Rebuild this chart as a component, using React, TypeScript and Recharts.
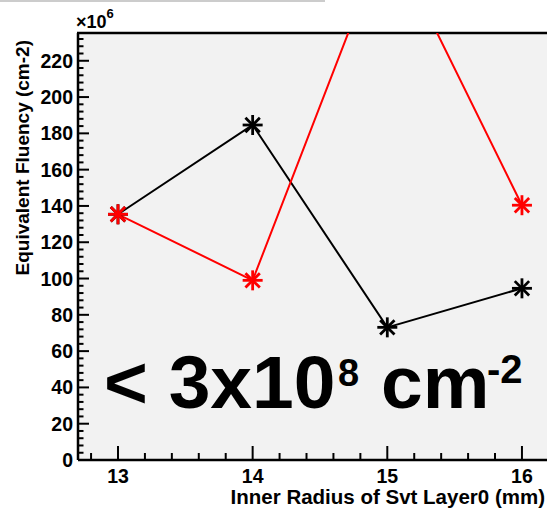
import React from 'react';
import { LineChart, Line, XAxis, YAxis, CartesianGrid, Customized } from 'recharts';

// Inner radius of the first SVT layer (mm)
const radii = [13, 14, 15, 16];
// Equivalent fluency, units of 1e6 cm-2
const fluencyBlack = [135.4, 184.6, 73.1, 94.6];
const fluencyRed = [135.4, 99.0, 291, 140.4];

const xTicks = [12.8, 13, 13.2, 13.4, 13.6, 13.8, 14, 14.2, 14.4, 14.6, 14.8, 15, 15.2, 15.4, 15.6, 15.8, 16];
const yTicks = Array.from({ length: 59 }, (_, i) => i * 4);

const rows = radii.map((r, i) => ({ r, black: fluencyBlack[i], red: fluencyRed[i] }));

const FONT = '"Liberation Sans", Arial, Helvetica, sans-serif';

const W = 547;
const H = 512;

const Star = (props: any) => {
  const { cx, cy, stroke } = props;
  if (cx == null || cy == null) return null;
  const r = 10;
  const d = r * 0.72;
  return (
    <g stroke={stroke} strokeWidth={2.8}>
      <line x1={cx - r} x2={cx + r} y1={cy} y2={cy} />
      <line x1={cx} x2={cx} y1={cy - r} y2={cy + r} />
      <line x1={cx - d} x2={cx + d} y1={cy - d} y2={cy + d} />
      <line x1={cx - d} x2={cx + d} y1={cy + d} y2={cy - d} />
    </g>
  );
};

const YTick = (props: any) => {
  const { x, y, payload } = props;
  const v = payload.value;
  const major = v % 20 === 0;
  return (
    <g>
      <line x1={x} x2={x + (major ? 11 : 5.5)} y1={y} y2={y} stroke="#000" strokeWidth={2} />
      {major && (
        <text x={x - 5} y={y + 7} textAnchor="end" fontFamily={FONT} fontWeight="bold" fontSize={19.5} fill="#000">
          {v}
        </text>
      )}
    </g>
  );
};

const XTick = (props: any) => {
  const { x, y, payload } = props;
  const v = payload.value;
  const major = Math.abs(v - Math.round(v)) < 1e-6;
  return (
    <g>
      <line x1={x} x2={x} y1={y} y2={y - (major ? 14 : 7)} stroke="#000" strokeWidth={2} />
      {major && (
        <text x={x} y={y + 23} textAnchor="middle" fontFamily={FONT} fontWeight="bold" fontSize={19.5} fill="#000">
          {Math.round(v)}
        </text>
      )}
    </g>
  );
};

// titles, exponent, frame top and the big annotation
const Decor = () => (
  <g fontFamily={FONT} fontWeight="bold" fill="#000">
    <rect x={0} y={0} width={325} height={2} fill="#cccccc" />
    <line x1={77} x2={W} y1={33} y2={33} stroke="#000" strokeWidth={2.5} />
    <text x={76} y={28} fontSize={18}>
      ×10
      <tspan fontSize={13} dy={-10}>6</tspan>
    </text>
    <text x={29} y={40} fontSize={19} textAnchor="end" transform="rotate(-90 29 40)">
      Equivalent Fluency (cm-2)
    </text>
    <text x={545} y={504} fontSize={20.5} textAnchor="end">
      Inner Radius of Svt Layer0 (mm)
    </text>
    <text y={408} fontSize={75}>
      <tspan x={104}>{'< 3x10'}</tspan>
      <tspan x={338} y={386} fontSize={38}>8</tspan>
      <tspan x={381} y={408}>cm</tspan>
      <tspan x={487} y={383} fontSize={40}>-2</tspan>
    </text>
  </g>
);

export default function App() {
  return (
    <div style={{ position: 'absolute', left: 0, top: 0, width: W, height: H, overflow: 'hidden', background: '#fff' }}>
      <LineChart width={W} height={H} data={rows} margin={{ top: 33, right: 0, bottom: 0, left: 0 }}>
        <CartesianGrid fill="#f2f2f2" horizontal={false} vertical={false} />
        <XAxis
          dataKey="r"
          type="number"
          domain={[12.703, 16.186]}
          allowDataOverflow
          ticks={xTicks}
          interval={0}
          height={52}
          tickSize={0}
          tickMargin={0}
          tickLine={false}
          tick={<XTick />}
          axisLine={{ stroke: '#000', strokeWidth: 2.5 }}
        />
        <YAxis
          type="number"
          domain={[0, 235.3]}
          allowDataOverflow
          ticks={yTicks}
          interval={0}
          width={78}
          tickSize={0}
          tickMargin={0}
          tickLine={false}
          tick={<YTick />}
          axisLine={{ stroke: '#000', strokeWidth: 2.5 }}
        />
        <Line dataKey="black" stroke="#000" strokeWidth={2} dot={<Star />} activeDot={false} isAnimationActive={false} />
        <Line dataKey="red" stroke="#ff0000" strokeWidth={2} dot={<Star />} activeDot={false} isAnimationActive={false} />
        <Customized component={Decor} />
      </LineChart>
    </div>
  );
}
